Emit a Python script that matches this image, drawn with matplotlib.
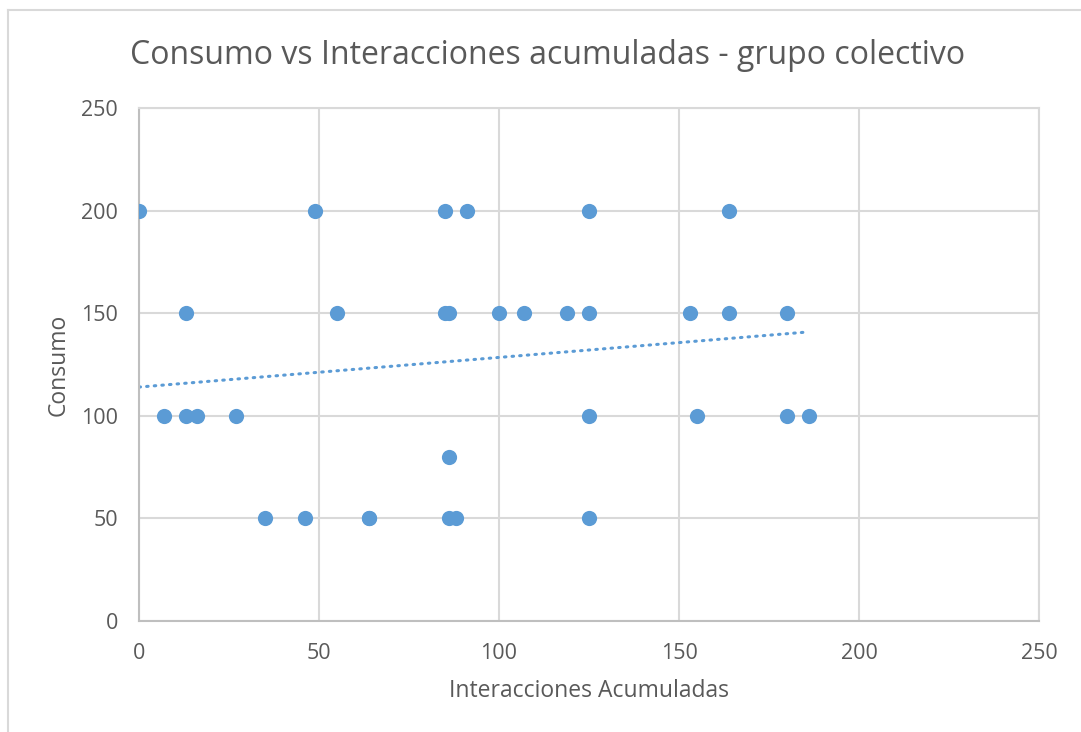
import matplotlib.pyplot as plt
from matplotlib.lines import Line2D

plt.rcParams['font.family'] = ['Open Sans', 'DejaVu Sans']

# interacciones acumuladas / consumo, one entry per person
interacciones = [0, 49, 85, 91, 125, 164,
                 13, 55, 85, 86, 100, 107, 119, 125, 153, 164, 180,
                 7, 13, 16, 27, 125, 155, 180, 186,
                 86,
                 35, 46, 64, 64, 86, 88, 125]
consumo = [200, 200, 200, 200, 200, 200,
           150, 150, 150, 150, 150, 150, 150, 150, 150, 150, 150,
           100, 100, 100, 100, 100, 100, 100, 100,
           80,
           50, 50, 50, 50, 50, 50, 50]

# linear trend line (y = 0.1445x + 114)
tendencia_pendiente = 0.1445
tendencia_origen = 114.0

gris = '#595959'
azul = '#5b9bd5'

fig = plt.figure(figsize=(10.81, 7.32), dpi=100)
ax = fig.add_axes([139/1081, 111/732, 900/1081, 513/732])

ax.scatter(interacciones, consumo, s=120, color=azul, zorder=3, linewidths=0)

xt = [0, max(interacciones)]
yt = [tendencia_origen + tendencia_pendiente * v for v in xt]
ax.plot(xt, yt, color=azul, lw=2.2, linestyle=(0, (0.5, 2.0)),
        dash_capstyle='round', zorder=2)

ax.set_xlim(0, 250)
ax.set_ylim(0, 250)
ax.set_xticks(range(0, 251, 50))
ax.set_yticks(range(0, 251, 50))
ax.grid(True, color='#d9d9d9', lw=1.5, zorder=0)
ax.set_axisbelow(True)
for s in ax.spines.values():
    s.set_color('#d9d9d9')
    s.set_linewidth(1.5)
ax.spines['left'].set_color('#bfbfbf')
ax.spines['bottom'].set_color('#bfbfbf')
ax.tick_params(length=0, labelsize=15.5, labelcolor=gris)
ax.tick_params(axis='y', pad=15)
ax.tick_params(axis='x', pad=16)

ax.set_xlabel('Interacciones Acumuladas', fontsize=16.5, color=gris, va='center')
ax.set_ylabel('Consumo', fontsize=16.5, color=gris, va='center')
ax.xaxis.set_label_coords(0.5, -70/513)
ax.yaxis.set_label_coords(-80/900, 0.5)

fig.text(548/1081, 1 - 55/732, 'Consumo vs Interacciones acumuladas - grupo colectivo',
         ha='center', va='center', fontsize=23, color=gris)

# outer chart frame (left and top edges)
fig.add_artist(Line2D([8/1081, 8/1081], [0, 1 - 10/732], transform=fig.transFigure,
                      color='#d9d9d9', lw=1.5))
fig.add_artist(Line2D([8/1081, 1], [1 - 10/732, 1 - 10/732], transform=fig.transFigure,
                      color='#d9d9d9', lw=1.5))

fig.savefig('out.png', dpi=100)
